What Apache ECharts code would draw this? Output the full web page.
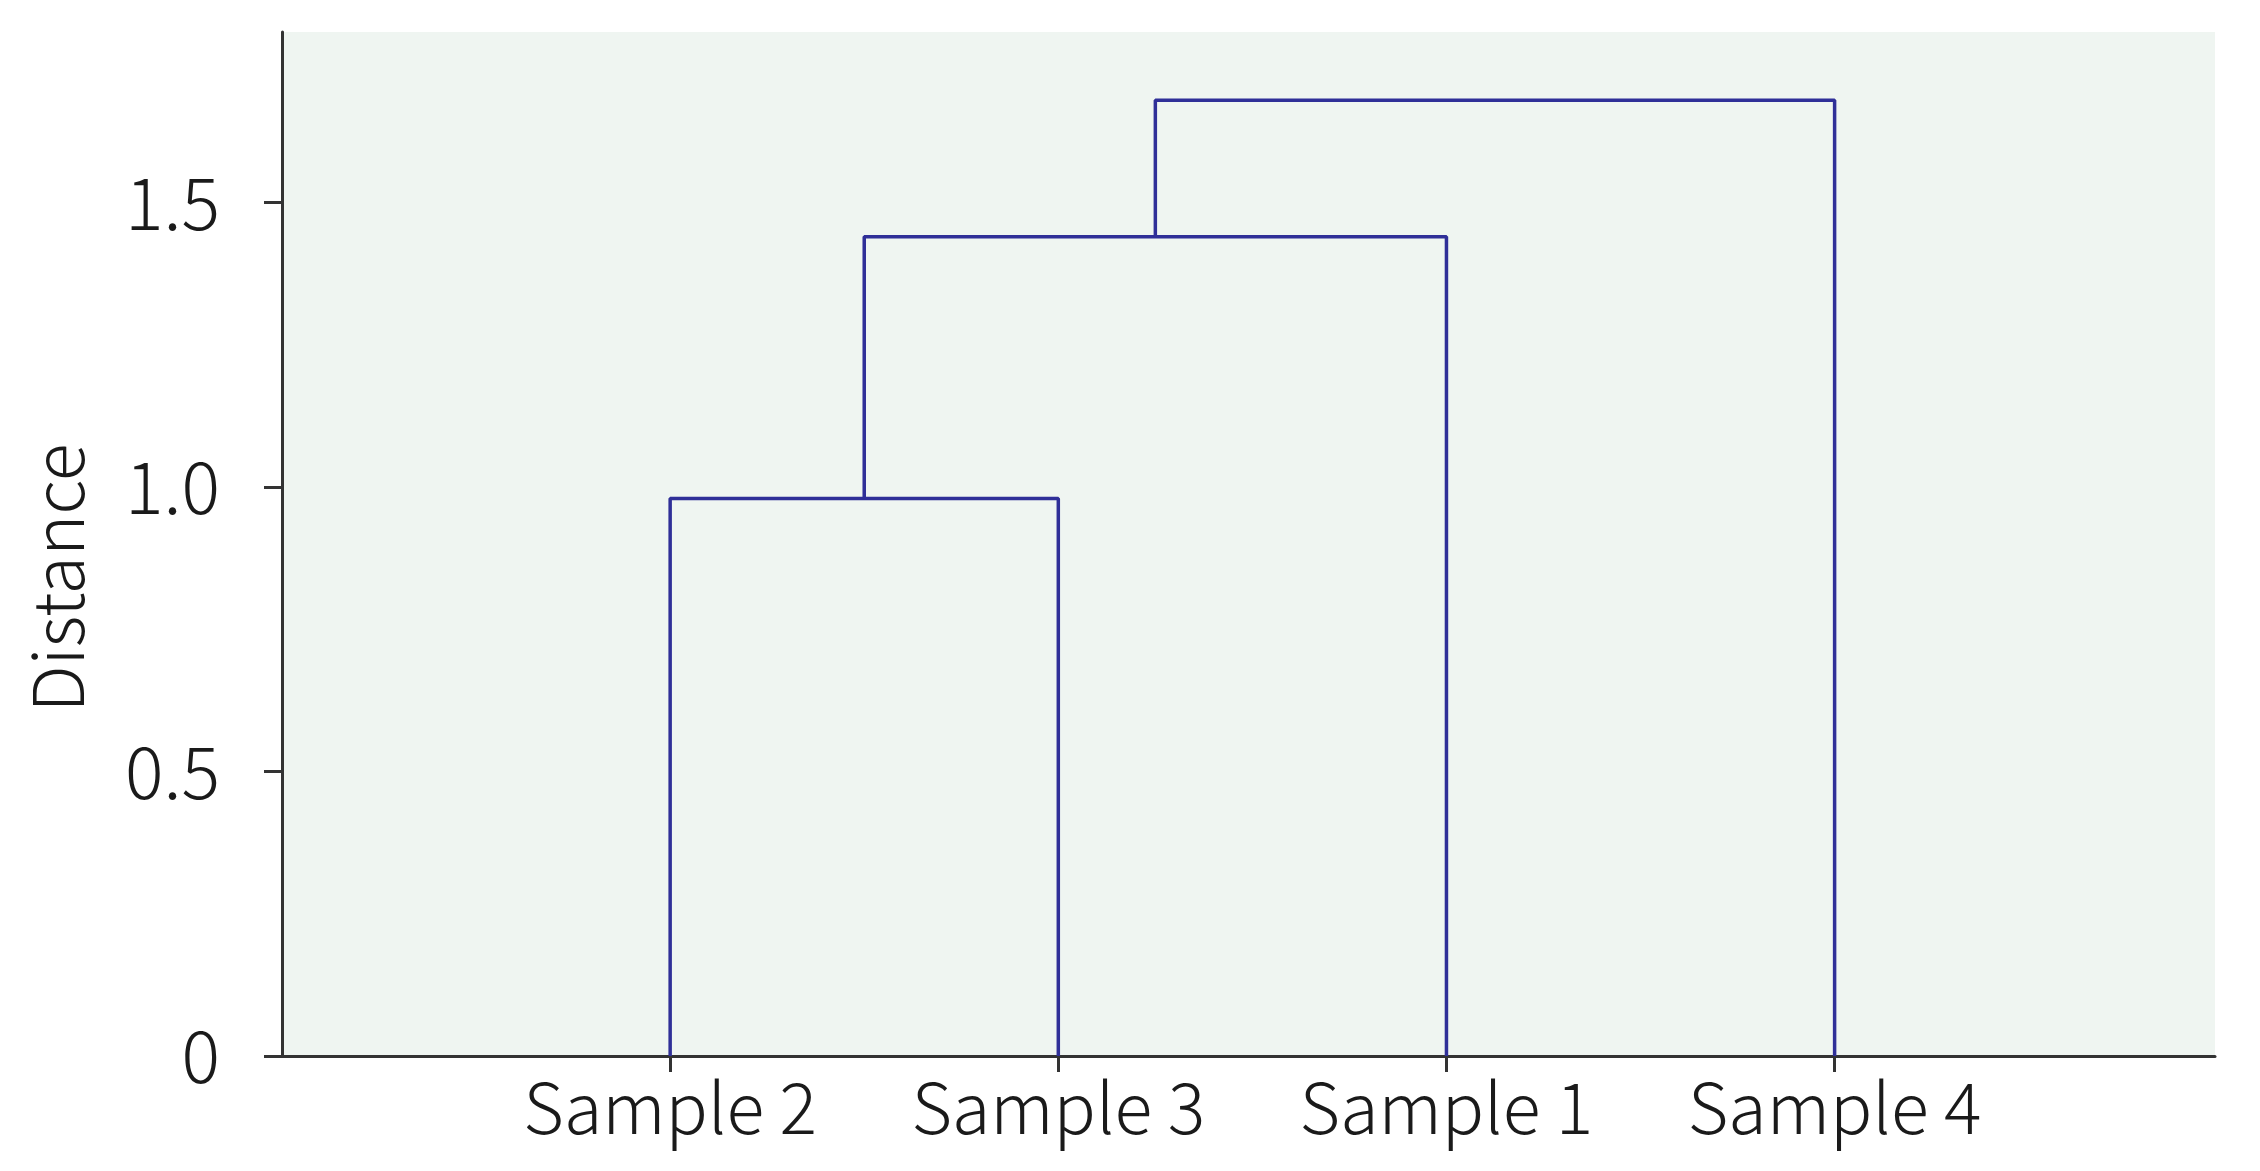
<!DOCTYPE html>
<html>
<head>
<meta charset="utf-8">
<script src="https://cdn.jsdelivr.net/npm/echarts@6/dist/echarts.min.js"></script>
<style>
html,body{margin:0;padding:0;background:#fff;}
#chart{width:2260px;height:1171px;}
</style>
</head>
<body>
<div id="chart"></div>
<script>
// Leaves in display order
const leafNames = ['Sample 2', 'Sample 3', 'Sample 1', 'Sample 4'];
const leafPositions = [1, 2, 3, 4];
// Linkage: node ids 0..3 are leaves, 4.. are clusters in merge order
const mergeLeft = [0, 4, 5];
const mergeRight = [1, 2, 3];
const mergeHeights = [0.98, 1.44, 1.68];
const yTickValues = [0, 0.5, 1.0, 1.5];
const yAxisName = 'Distance';

const nodeX = leafPositions.slice();
const nodeH = leafPositions.map(() => 0);
const linkSeries = [];
for (let i = 0; i < mergeHeights.length; i++) {
  const a = mergeLeft[i], b = mergeRight[i], h = mergeHeights[i];
  linkSeries.push({
    type: 'line',
    symbol: 'none',
    silent: true,
    animation: false,
    lineStyle: { color: '#2f2f98', width: 3.5 },
    data: [[nodeX[a], nodeH[a]], [nodeX[a], h], [nodeX[b], h], [nodeX[b], nodeH[b]]]
  });
  nodeX.push((nodeX[a] + nodeX[b]) / 2);
  nodeH.push(h);
}

const FONT = '"Noto Sans CJK SC", "Noto Sans", sans-serif';
const chart = echarts.init(document.getElementById('chart'), null, { renderer: 'canvas' });
chart.setOption({
  backgroundColor: '#ffffff',
  animation: false,
  grid: {
    left: 282, right: 45, top: 32, bottom: 115,
    show: true, backgroundColor: '#eff5f1', borderWidth: 0
  },
  xAxis: {
    type: 'value',
    min: 0, max: 4.98,
    splitLine: { show: false },
    axisLine: { show: true, onZero: false, lineStyle: { color: '#333', width: 3 } },
    axisTick: { show: true, customValues: leafPositions, length: 16, lineStyle: { color: '#333', width: 3 } },
    axisLabel: {
      customValues: leafPositions,
      formatter: v => leafNames[Math.round(v) - 1] || '',
      fontFamily: FONT, fontWeight: 300, fontSize: 70, color: '#1a1a1a', margin: 16
    }
  },
  yAxis: {
    type: 'value',
    min: 0, max: 1.8, interval: 0.5,
    name: yAxisName,
    nameLocation: 'middle',
    nameGap: 190,
    nameRotate: 90,
    nameTextStyle: { fontFamily: FONT, fontWeight: 300, fontSize: 70, color: '#1a1a1a', padding: [0, 68, 0, 0] },
    splitLine: { show: false },
    axisLine: { show: true, lineStyle: { color: '#333', width: 3 } },
    axisTick: { show: true, customValues: yTickValues, length: 18, lineStyle: { color: '#333', width: 3 } },
    axisLabel: {
      customValues: yTickValues,
      formatter: v => (v === 0 ? '0' : v.toFixed(1)),
      fontFamily: FONT, fontWeight: 300, fontSize: 72, color: '#1a1a1a', margin: 62
    }
  },
  series: linkSeries
});
</script>
</body>
</html>
